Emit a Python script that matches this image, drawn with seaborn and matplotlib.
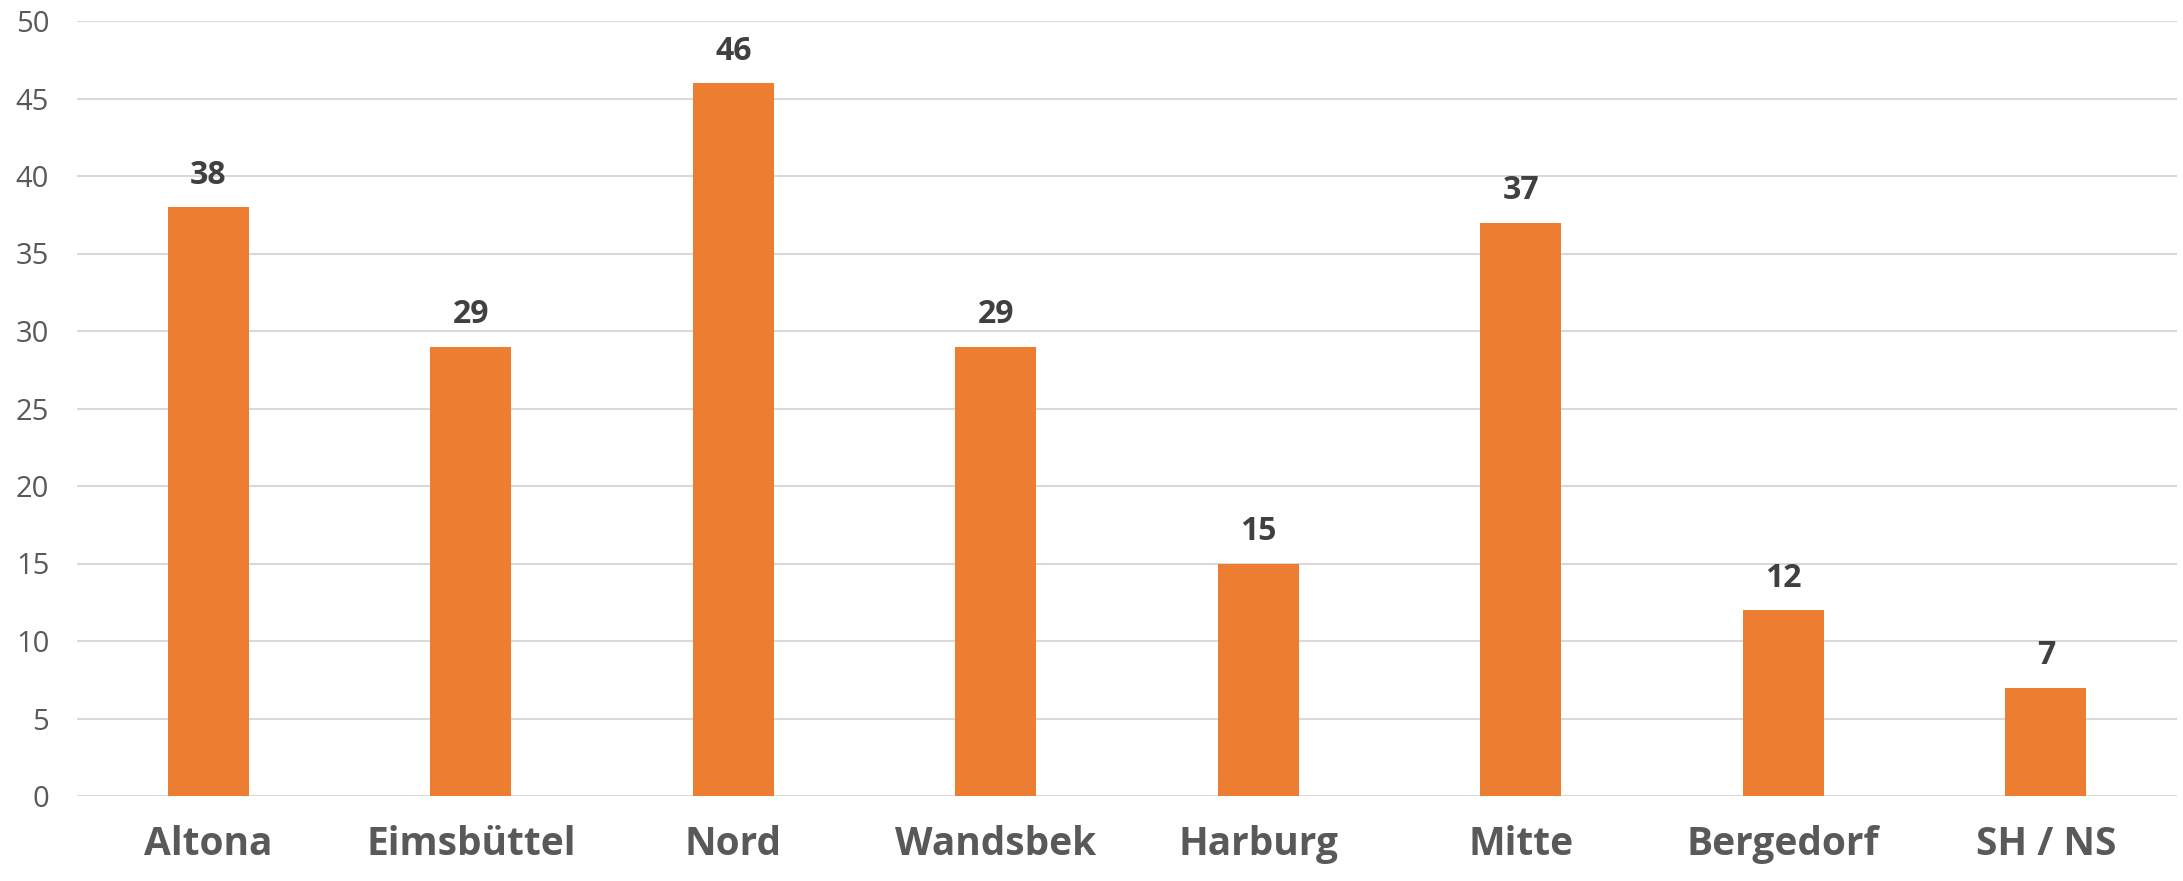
import numpy as np
import pandas as pd
import matplotlib
matplotlib.use("Agg")
import matplotlib.pyplot as plt
import seaborn as sns

districts = ["Altona", "Eimsbüttel", "Nord", "Wandsbek", "Harburg", "Mitte", "Bergedorf", "SH / NS"]
counts = [38, 29, 46, 29, 15, 37, 12, 7]

df = pd.DataFrame({"district": districts, "count": counts})

sns.set_style("white")
plt.rcParams['font.family'] = ['Open Sans', 'DejaVu Sans']

fig = plt.figure(figsize=(21.83, 8.81), dpi=100)
ax = fig.add_axes([77/2183, 1 - 796/881, 2100/2183, 775/881])

sns.barplot(data=df, x="district", y="count", color="#ED7D31", saturation=1,
            width=0.31, linewidth=0, ax=ax, zorder=3)

ax.set_ylim(0, 50)
ax.set_xlim(-0.5, len(districts) - 0.5)
ax.set_yticks(np.arange(0, 51, 5))
ax.yaxis.grid(True, color="#D9D9D9", linewidth=1.5, zorder=0)
ax.set_axisbelow(True)
for s in ax.spines.values():
    s.set_visible(False)

ax.tick_params(axis="y", length=0, pad=20, labelsize=21, labelcolor="#595959")
ax.tick_params(axis="x", length=0, pad=21, labelcolor="#595959")
for lbl in ax.get_xticklabels():
    lbl.set_fontsize(28)
    lbl.set_fontweight("bold")
ax.set_xlabel("")
ax.set_ylabel("")

# value labels
for i, v in enumerate(counts):
    ax.annotate(str(v), (i, v), xytext=(0, 11), textcoords="offset points",
                ha="center", va="bottom", fontsize=23, fontweight="bold", color="#404040")

fig.savefig("out.png", dpi=100)
